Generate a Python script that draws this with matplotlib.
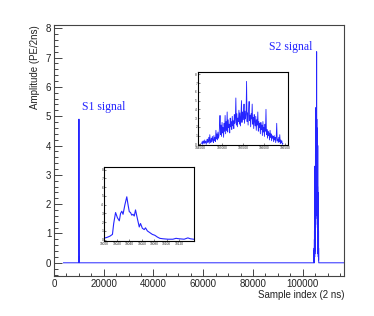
import numpy as np
import matplotlib
matplotlib.use("Agg")
import matplotlib.pyplot as plt
from matplotlib.ticker import MultipleLocator

plt.rcParams['font.family'] = ['Liberation Sans', 'DejaVu Sans']

# ---  DATA  ---
# S1 pulse (sample index, amplitude in PE/2ns)
s1_index = [10001, 10004, 10009, 10013, 10015, 10018, 10021, 10024, 10026, 10028,
            10030, 10033, 10036, 10038, 10040, 10042, 10044, 10046, 10048, 10050,
            10053, 10056, 10058, 10061, 10064, 10066, 10069, 10071, 10074, 10077,
            10081, 10085, 10089, 10094, 10102, 10110, 10115, 10120, 10128, 10134,
            10138, 10143]
s1_amp = [0.2, 0.25, 0.4, 0.6, 1.85, 3.1, 2.5, 2.15, 3.0, 3.25,
          2.9, 4.0, 4.9, 4.0, 3.2, 3.1, 2.8, 2.9, 2.7, 3.4,
          2.4, 1.45, 1.85, 1.3, 1.15, 1.35, 1.0, 0.9, 0.75, 0.6,
          0.5, 0.3, 0.15, 0.1, 0.05, 0.05, 0.15, 0.1, 0.05, 0.2,
          0.1, 0.05]

# S2 pulse, one value every 12 samples starting at 104530
s2_start = 104530
s2_step = 12
s2_amp = [0.1, 0.3, 0.0, 0.4, 0.2, 0.1, 0.5, 0.2, 0.3, 0.0,
          0.4, 0.6, 0.2, 0.3, 0.8, 0.1, 1.1, 0.4, 0.2, 0.7,
          0.3, 0.9, 0.5, 0.2, 1.0, 0.4, 0.8, 0.3, 1.6, 0.6,
          1.2, 0.5, 1.4, 0.7, 1.0, 2.0, 3.3, 1.1, 2.2, 0.9,
          2.5, 1.3, 1.9, 0.8, 2.4, 1.5, 3.3, 1.2, 2.6, 1.6,
          3.7, 1.4, 2.8, 1.9, 2.3, 1.3, 3.0, 2.0, 2.6, 1.7,
          3.2, 2.1, 2.7, 1.8, 3.4, 2.4, 2.9, 5.3, 2.2, 3.5,
          2.0, 3.0, 2.6, 3.9, 2.3, 3.6, 2.1, 3.2, 5.0, 2.5,
          3.7, 2.8, 3.3, 4.6, 2.4, 3.8, 2.9, 3.4, 7.2, 2.6,
          3.6, 2.2, 3.9, 4.9, 2.7, 3.3, 2.0, 3.5, 2.9, 4.6,
          2.3, 3.1, 1.8, 3.4, 2.6, 2.1, 3.2, 1.6, 2.8, 2.2,
          3.7, 1.5, 2.6, 1.9, 2.4, 1.2, 2.5, 1.7, 2.2, 1.0,
          2.6, 1.4, 1.9, 0.9, 2.3, 1.5, 4.0, 1.1, 1.7, 0.7,
          1.5, 1.0, 1.3, 0.5, 1.6, 0.8, 1.2, 0.4, 1.0, 0.7,
          0.9, 0.3, 1.0, 0.5, 0.8, 0.2, 0.7, 2.4, 0.4, 0.6,
          0.2, 0.8, 0.3, 1.1, 0.1, 0.5, 0.2, 0.4, 0.0, 0.1]
s2_index = s2_start + s2_step * np.arange(len(s2_amp))

# full record range
rec_first, rec_last = 3800, 116600

# whole waveform: flat baseline with the two pulses in it
wf_x = np.concatenate([[rec_first, s1_index[0] - 1], s1_index, [s1_index[-1] + 1],
                       [s2_index[0] - 1], s2_index, [s2_index[-1] + 1, rec_last]])
wf_y = np.concatenate([[0, 0], s1_amp, [0], [0], s2_amp, [0, 0]])

inset1_ticks = [10000, 10020, 10040, 10060, 10080, 10100, 10120]
inset2_ticks = [104500, 105000, 105500, 106000, 106500]

BLUE = "#2525ff"
FRAME = "#444444"

# ---  MAIN PLOT  ---
fig = plt.figure(figsize=(3.74, 3.16), dpi=100)
ax = fig.add_axes([0.1444, 0.1266, 0.7754, 0.7943])
ax.plot(wf_x, wf_y, color=BLUE, lw=0.7)
ax.set_xlim(0, 116600)
ax.set_ylim(-0.45, 8.11)

ax.xaxis.set_major_locator(MultipleLocator(20000))
ax.xaxis.set_minor_locator(MultipleLocator(5000))
ax.yaxis.set_major_locator(MultipleLocator(1))
ax.yaxis.set_minor_locator(MultipleLocator(0.2))
ax.set_yticks(range(0, 9))
ax.tick_params(which="both", direction="in", top=False, right=False,
               labelsize=7, colors=FRAME, labelcolor="#222222", width=0.7)
ax.tick_params(axis="y", which="major", length=6, pad=2)
ax.tick_params(axis="y", which="minor", length=3)
ax.tick_params(axis="x", which="major", length=5, pad=2)
ax.tick_params(axis="x", which="minor", length=2.5)
for sp in ax.spines.values():
    sp.set_color(FRAME)
    sp.set_linewidth(0.8)

ax.set_xlabel("Sample index (2 ns)", fontsize=7, color="#222222", loc="right", labelpad=1)
ax.set_ylabel("Amplitude (PE/2ns)", fontsize=7, color="#222222", loc="top", labelpad=4)

ax.text(11300, 5.31, "S1 signal", color=BLUE, fontsize=8.5, va="center",
        family=["Liberation Serif", "DejaVu Serif"])
ax.text(86400, 7.37, "S2 signal", color=BLUE, fontsize=8.5, va="center",
        family=["Liberation Serif", "DejaVu Serif"])


# ---  INSETS  ---
def style_inset(a, xticks):
    a.set_xticks(xticks)
    a.set_xticklabels([str(t) for t in xticks])
    a.set_yticks(range(0, 9))
    a.tick_params(which="both", direction="in", labelsize=2.3, length=1.5,
                  width=0.4, pad=0.8, colors="#222222")
    for sp in a.spines.values():
        sp.set_color("black")
        sp.set_linewidth(0.8)


ins1 = fig.add_axes([0.279, 0.2383, 0.240, 0.233])
ins1.plot(s1_index, s1_amp, color=BLUE, lw=0.8)
ins1.set_xlim(10000, 10144)
ins1.set_ylim(-0.12, 8.3)
style_inset(ins1, inset1_ticks)

ins2 = fig.add_axes([0.530, 0.540, 0.239, 0.233])
ins2.plot(s2_index, s2_amp, color=BLUE, lw=0.6)
ins2.set_xlim(104450, 106550)
ins2.set_ylim(-0.12, 8.3)
style_inset(ins2, inset2_ticks)

fig.savefig("out.png", dpi=100)
